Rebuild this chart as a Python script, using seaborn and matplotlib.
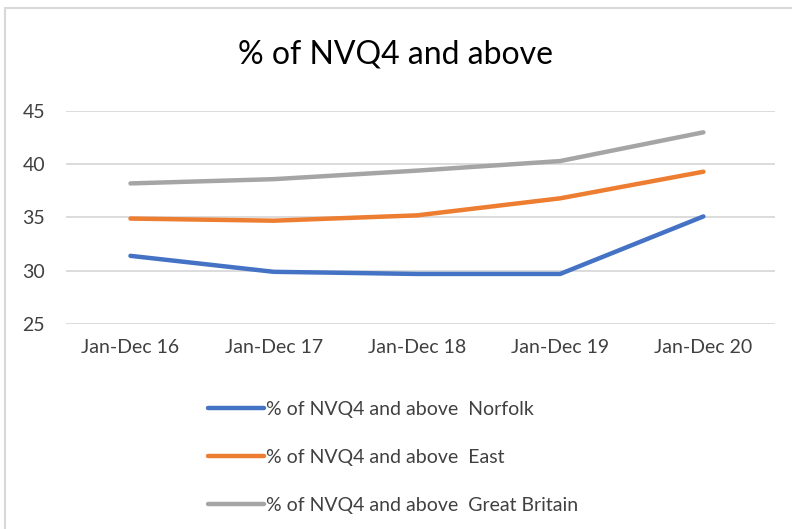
import pandas as pd
import matplotlib.pyplot as plt
import seaborn as sns
from matplotlib.patches import Rectangle

# Chart data
periods = ['Jan-Dec 16', 'Jan-Dec 17', 'Jan-Dec 18', 'Jan-Dec 19', 'Jan-Dec 20']
norfolk = [31.4, 29.9, 29.7, 29.7, 35.1]
east = [34.9, 34.7, 35.2, 36.8, 39.3]
great_britain = [38.2, 38.6, 39.4, 40.3, 43.0]
series_names = ['% of NVQ4 and above  Norfolk',
                '% of NVQ4 and above  East',
                '% of NVQ4 and above  Great Britain']
colors = ['#4472C4', '#ED7D31', '#A5A5A5']
y_ticks = [25, 30, 35, 40, 45]

# Long-form table for seaborn
df = pd.DataFrame({
    'Period': periods * 3,
    'Value': norfolk + east + great_britain,
    'Series': [series_names[0]] * 5 + [series_names[1]] * 5 + [series_names[2]] * 5,
})

sns.set_style('white')
plt.rcParams['font.family'] = ['Lato', 'DejaVu Sans']

fig = plt.figure(figsize=(7.92, 5.29), dpi=100)
# light outer chart border
fig.patches.append(Rectangle((5 / 792, -0.05), 1.0, 1.05 - 8 / 529, transform=fig.transFigure,
                             fill=False, edgecolor='#D9D9D9', linewidth=1.5))

ax = fig.add_axes([66 / 792, 1 - 324 / 529, (775 - 66) / 792, 213 / 529])
sns.lineplot(data=df, x='Period', y='Value', hue='Series', palette=colors,
             linewidth=3.2, sort=False, ax=ax, legend=True)

ax.set_ylim(25, 45)
ax.set_xlim(-0.45, 4.5)
ax.set_yticks(y_ticks)
ax.yaxis.grid(True, color='#D9D9D9', linewidth=1.3)
ax.set_axisbelow(True)
for s in ax.spines.values():
    s.set_visible(False)
ax.tick_params(axis='both', length=0, labelsize=14, colors='#404040')
ax.tick_params(axis='x', pad=11)
ax.tick_params(axis='y', pad=15)
ax.set_xlabel('')
ax.set_ylabel('')

fig.text(0.5, 1 - 55 / 529, '% of NVQ4 and above', ha='center', va='center',
         fontsize=23, color='#000000')

handles, labels = ax.get_legend_handles_labels()
ax.get_legend().remove()
fig.legend(handles, labels, loc='upper left', bbox_to_anchor=(208 / 792, 1 - 401 / 529),
           frameon=False, fontsize=14, handlelength=2.9, handletextpad=0.1,
           labelspacing=1.6, borderpad=0, borderaxespad=0, labelcolor='#404040')

plt.savefig('out.png', dpi=100)
